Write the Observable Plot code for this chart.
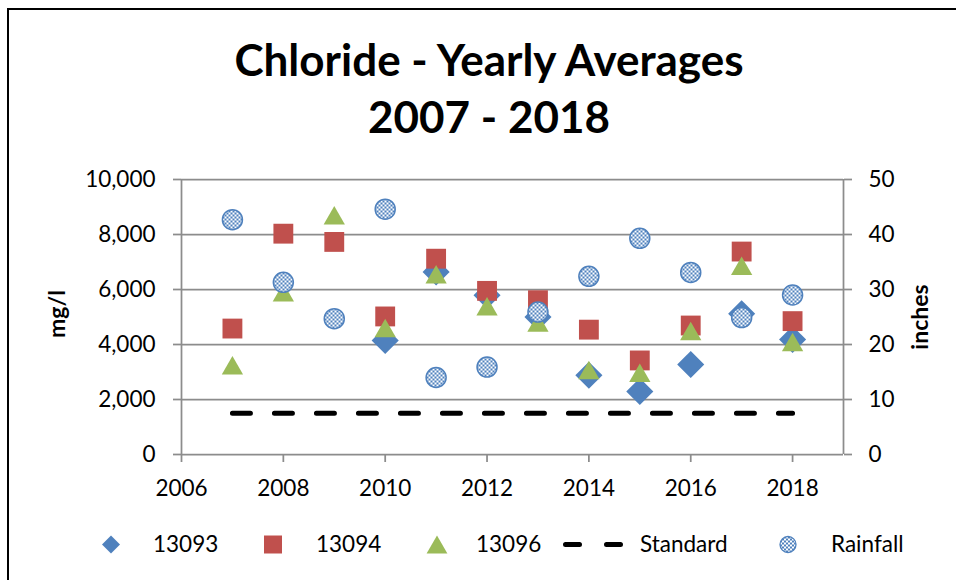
<!DOCTYPE html>
<html><head><meta charset="utf-8">
<script src="https://cdn.jsdelivr.net/npm/d3@7"></script>
<script src="https://cdn.jsdelivr.net/npm/@observablehq/plot@0.6"></script>
<style>
body{margin:0;background:#fff;}
#wrap{position:relative;width:956px;height:580px;overflow:hidden;font-family:Lato,sans-serif;background:#fff;}
#frame{position:absolute;left:7px;top:8px;width:1000px;height:1000px;border-left:2px solid #000;border-top:2px solid #000;}
#titles{position:absolute;left:0;top:0;}
#chart{position:absolute;left:0;top:150px;}
#legend{position:absolute;left:0;top:525px;}
</style></head>
<body>
<svg width="0" height="0" style="position:absolute">
  <defs>
    <pattern id="checker" width="4" height="4" patternUnits="userSpaceOnUse">
      <rect width="4" height="4" fill="#ffffff"/>
      <rect width="2" height="2" fill="#4F81BD"/>
      <rect x="2" y="2" width="2" height="2" fill="#4F81BD"/>
    </pattern>
  </defs>
</svg>
<div id="wrap">
  <div id="frame"></div>
  <svg id="titles" width="956" height="150"></svg>
  <div id="chart"></div>
  <svg id="legend" width="956" height="40"></svg>
</div>
<script>
// ---- data ----
const years = [2007, 2008, 2009, 2010, 2011, 2012, 2013, 2014, 2015, 2016, 2017, 2018];
const s13093 = [null, null, null, 4150, 6640, 5790, 5000, 2880, 2290, 3270, 5120, 4180];
const s13094 = [4580, 8030, 7730, 5020, 7120, 5950, 5610, 4540, 3420, 4690, 7380, 4850];
const s13096 = [3240, 5900, 8700, 4600, 6550, 5390, 4800, 3070, 2970, 4490, 6860, 4090];
const rainfall = [42.7, 31.3, 24.7, 44.6, 14.0, 15.9, 25.9, 32.4, 39.3, 33.1, 24.9, 29.0];
const standard = [1500, 1500, 1500, 1500, 1500, 1500, 1500, 1500, 1500, 1500, 1500, 1500];
const leftTicks = [0, 2000, 4000, 6000, 8000, 10000];
const rightTicks = [0, 10, 20, 30, 40, 50];
const xTicks = [2006, 2008, 2010, 2012, 2014, 2016, 2018];
const titleLines = ["Chloride - Yearly Averages", "2007 - 2018"];
const seriesNames = ["13093", "13094", "13096", "Standard", "Rainfall"];

// ---- build ----
const rows = years.map((year, i) => ({
  year, s13093: s13093[i], s13094: s13094[i], s13096: s13096[i],
  rainfall: rainfall[i], standard: standard[i]
}));
const yMax = leftTicks[leftTicks.length - 1];
const rMax = rightTicks[rightTicks.length - 1];
const k = yMax / rMax; // inches -> mg/l scale factor

const BLUE = "#4F81BD", RED = "#C0504D", GREEN = "#9BBB59", GRID = "#8c8c8c";
const font = "Lato, sans-serif";

const chart = Plot.plot({
  width: 956,
  height: 430,
  marginTop: 29,
  marginBottom: 126,
  marginLeft: 181,
  marginRight: 113,
  style: {fontFamily: font, fontSize: "22.5px", color: "#000", background: "transparent"},
  x: {domain: [2006, 2019]},
  y: {domain: [0, yMax]},
  marks: [
    Plot.ruleY(leftTicks.slice(1), {stroke: GRID, strokeWidth: 1.75}),
    Plot.ruleY([0], {stroke: GRID, strokeWidth: 1.75}),
    Plot.ruleX([2006, 2019], {stroke: GRID, strokeWidth: 1.75}),
    Plot.axisY({ticks: leftTicks, tickFormat: d3.format(","), tickSize: 8, tickPadding: 18, stroke: GRID, strokeWidth: 1.75, label: null}),
    Plot.axisY({anchor: "right", ticks: leftTicks, tickFormat: d => d / k, tickSize: 8, tickPadding: 17, stroke: GRID, strokeWidth: 1.75, label: null}),
    Plot.axisX({ticks: xTicks, tickFormat: d => String(d), tickSize: 8, tickPadding: 18, stroke: GRID, strokeWidth: 1.75, label: null}),
    Plot.text(["mg/l"], {frameAnchor: "left", textAnchor: "middle", lineAnchor: "middle", text: d => d, rotate: -90, dx: -124, dy: -3, fontWeight: "bold", fontSize: 23}),
    Plot.text(["inches"], {frameAnchor: "right", textAnchor: "middle", lineAnchor: "middle", text: d => d, rotate: -90, dx: 77, dy: 0, fontWeight: "bold", fontSize: 23}),
    Plot.dot(rows, {x: "year", y: "s13093", symbol: "diamond2", r: 12.2, fill: BLUE}),
    Plot.dot(rows, {x: "year", y: "s13094", symbol: "square", r: 11.2, fill: RED}),
    Plot.dot(rows, {x: "year", y: "s13096", symbol: "triangle", r: 7.9, fill: GREEN, dy: 3}),
    Plot.lineY(rows, {x: "year", y: "standard", stroke: "#000", strokeWidth: 5, strokeDasharray: "18,24", strokeLinecap: "round"}),
    Plot.dot(rows, {x: "year", y: d => d.rainfall * k, r: 10, fill: "url(#checker)", stroke: BLUE, strokeWidth: 1.5})
  ]
});
document.getElementById("chart").appendChild(chart);

// ---- titles ----
const titles = d3.select("#titles");
titles.selectAll("text").data(titleLines).join("text")
  .attr("x", 489).attr("y", (d, i) => 76 + i * 57)
  .attr("text-anchor", "middle")
  .attr("font-family", font).attr("font-weight", "bold").attr("font-size", 44)
  .text(d => d);

// ---- legend ----
const legendLayout = [
  {sym: d3.symbolDiamond2, size: 206, fill: BLUE, cx: 111, tx: 153},
  {sym: d3.symbolSquare, size: 324, fill: RED, cx: 273, tx: 316},
  {sym: d3.symbolTriangle, size: 187, fill: GREEN, cx: 437, tx: 476, dy: 3},
  {line: true, x1: 565.5, x2: 620.5, tx: 640},
  {sym: d3.symbolCircle, size: 201, fill: "url(#checker)", stroke: BLUE, cx: 788, tx: 831}
];
const lg = d3.select("#legend");
const cy = 19.5;
legendLayout.forEach((it, i) => {
  if (it.line) {
    lg.append("line").attr("x1", it.x1).attr("x2", it.x2).attr("y1", cy).attr("y2", cy)
      .attr("stroke", "#000").attr("stroke-width", 5).attr("stroke-linecap", "round")
      .attr("stroke-dasharray", "14,27");
  } else {
    lg.append("path").attr("d", d3.symbol(it.sym, it.size)())
      .attr("transform", `translate(${it.cx},${cy + (it.dy || 0)})`)
      .attr("fill", it.fill).attr("stroke", it.stroke || "none").attr("stroke-width", 1.3);
  }
  lg.append("text").attr("x", it.tx).attr("y", cy).attr("dy", "0.35em")
    .attr("font-family", font).attr("font-size", 22.5).attr("fill", "#000")
    .text(seriesNames[i]);
});
</script>
</body></html>
